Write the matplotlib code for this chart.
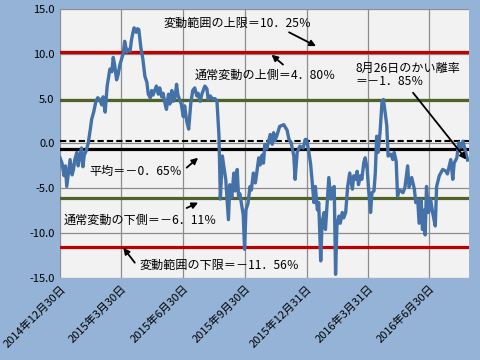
import matplotlib
matplotlib.use("Agg")
from matplotlib import pyplot as plt
import numpy as np
import pandas as pd

plt.rcParams['font.family'] = ['Noto Sans CJK JP', 'DejaVu Sans']

# days after 2014-12-30 and deviation rate (%)
start = "2014-12-30"
days = [0, 3, 6, 8, 10, 13, 15, 18, 20, 22, 25, 27, 30, 32, 34, 36, 39, 42, 45, 47,
        50, 53, 56, 59, 62, 64, 67, 70, 74, 77, 79, 81, 84, 86, 89, 92, 94, 96, 99, 101,
        104, 106, 108, 110, 113, 115, 117, 120,
        123, 126, 129, 131, 134, 136, 138, 141, 143, 146, 148, 151, 153, 156, 158, 161,
        163, 166, 168, 171, 173, 175, 180, 183, 185, 188, 191, 194, 197, 200, 203, 205,
        208, 211, 215, 218, 220, 223, 226, 230, 233, 236, 238,
        241, 243, 246, 248, 250, 252, 255, 258, 260, 263, 265, 267, 270, 272, 274, 276,
        279, 282, 284, 287, 290, 292, 295, 297, 300, 302, 304, 307, 312, 315, 317, 319,
        322, 326, 332, 337, 340, 343, 347, 349, 352, 356, 361, 364,
        366, 369, 372, 377, 379, 382, 384, 387, 389, 392, 394, 397, 399, 402, 404, 407,
        409, 411, 414, 416, 419, 421, 424, 427, 430, 434, 436, 439, 441, 443, 446, 448,
        451, 453, 456, 458, 461, 463, 466, 468, 470, 472, 475, 478, 480, 482, 485, 487,
        491, 494, 496, 499, 501, 503, 506, 509, 512, 516, 518, 522, 526, 528, 531, 533,
        536, 538, 541, 542, 544, 547, 550, 553, 557, 559, 563, 568, 573, 575, 580, 583,
        585, 589, 592, 595, 598, 601, 605]
rate = [-1.6, -2.2, -3.6, -2.5, -4.8, -3.0, -1.8, -3.5, -2.9, -1.8, -1.0, -2.5, -1.2, -0.5, -2.6, -1.3,
        -0.8, 0.1, 1.6, 2.7, 3.5, 4.6, 5.1, 4.9, 4.3, 5.2, 3.5, 6.4, 8.3, 8.0, 9.6, 8.8,
        7.1, 7.6, 8.8, 9.6, 10.1, 11.4, 10.2, 10.5, 10.3, 11.5, 12.3, 12.9, 12.4, 12.8, 12.7, 10.7,
        9.4, 7.5, 6.8, 5.5, 5.1, 5.9, 5.4, 6.0, 6.4, 5.5, 6.2, 5.2, 5.6, 4.4, 3.8, 5.5,
        4.4, 5.9, 4.7, 5.2, 6.6, 5.4, 4.4, 3.0, 4.2, 2.5, 1.6, 4.4, 5.9, 6.2, 5.3, 5.6,
        4.7, 5.6, 6.4, 6.1, 4.9, 5.3, 5.0, 5.0, 4.7, 0.8, -6.2,
        -1.4, -2.5, -4.0, -6.2, -8.5, -4.6, -6.0, -3.3, -5.3, -2.9, -5.9, -5.6, -7.0, -8.0, -11.8, -7.4,
        -6.7, -4.8, -5.2, -3.3, -4.4, -3.3, -1.6, -2.4, -1.3, -2.2, -0.1, -0.6, 1.0, -0.1, 1.2, 0.3,
        0.9, 1.9, 2.1, 1.5, 0.4, 0.1, -1.4, -4.0, -1.0, -0.3, -0.5, 0.45,
        0.45, -0.8, -2.3, -6.6, -4.8, -7.4, -6.6, -13.1, -8.8, -7.7, -9.6, -6.2, -3.8, -6.2, -5.1, -4.8,
        -14.6, -9.2, -8.1, -8.9, -7.7, -8.3, -7.7, -4.8, -3.3, -5.1, -3.6, -4.0, -3.1, -4.6, -3.6, -4.0,
        -2.1, -1.6, -2.9, -5.1, -7.7, -5.5, -5.3, -3.3, 0.8, -1.0, 1.2, 4.7, 4.9, 3.8, 2.0, -1.4,
        -1.2, -1.8, -1.0, -2.0, -5.9, -5.2, -5.3, -5.5, -4.9, -2.5, -4.9, -3.8, -5.1, -6.6, -6.3, -8.9,
        -6.3, -9.6, -7.4, -10.2, -4.8, -7.7, -6.2, -7.7, -9.2, -4.8, -3.6, -2.9, -3.1, -3.4, -1.8, -4.0,
        -2.2, -1.6, 0.1, -0.4, 0.25, -0.6, -1.85]

upper_limit = 10.25
upper_normal = 4.80
mean_rate = -0.65
lower_normal = -6.11
lower_limit = -11.56
dashed_level = 0.25

tick_dates = ["2014-12-30", "2015-03-30", "2015-06-30", "2015-09-30",
              "2015-12-31", "2016-03-31", "2016-06-30"]
tick_labels = ["2014年12月30日", "2015年3月30日", "2015年6月30日", "2015年9月30日",
               "2015年12月31日", "2016年3月31日", "2016年6月30日"]

dates = pd.to_datetime(start) + pd.to_timedelta(days, unit="D")

fig = plt.figure(figsize=(4.8, 3.6), dpi=100)
fig.patch.set_facecolor("#95b3d7")
ax = fig.add_axes([0.125, 0.228, 0.852, 0.747])
ax.set_facecolor("#f2f2f2")

ax.plot(dates, rate, color="#4471a8", lw=2.4, zorder=3)
ax.axhline(upper_limit, color="#c00000", lw=2.3, zorder=2)
ax.axhline(lower_limit, color="#c00000", lw=2.3, zorder=2)
ax.axhline(upper_normal, color="#4f6228", lw=2.3, zorder=2)
ax.axhline(lower_normal, color="#4f6228", lw=2.3, zorder=2)
ax.axhline(mean_rate, color="black", lw=2.3, zorder=2)
ax.axhline(dashed_level, color="black", lw=1.5, ls=(0, (3, 1.5)), zorder=2)

ax.set_ylim(-15, 15)
ax.set_yticks(np.arange(-15, 16, 5))
ax.set_yticklabels([f"{v:.1f}" for v in np.arange(-15, 16, 5)], fontsize=8)
ax.set_xlim(pd.to_datetime("2014-12-30"), pd.to_datetime("2016-08-28"))
ax.set_xticks(pd.to_datetime(tick_dates))
ax.set_xticklabels(tick_labels, rotation=45, ha="right", rotation_mode="anchor", fontsize=8)
ax.tick_params(length=0, pad=4)
ax.grid(True, color="#8c8c8c", lw=0.9)
ax.set_axisbelow(True)
for s in ax.spines.values():
    s.set_visible(False)

# text labels
fs = 8.7
ax.text(pd.to_datetime("2015-06-01"), 13.4, "変動範囲の上限＝10．25％", fontsize=fs, va="center")
ax.text(pd.to_datetime("2015-07-18"), 7.6, "通常変動の上側＝4．80％", fontsize=fs, va="center")
ax.text(pd.to_datetime("2016-03-12"), 7.6, "8月26日のかい離率\n＝－1．85％", fontsize=fs,
        va="center", linespacing=1.0)
ax.text(pd.to_datetime("2015-02-12"), -3.1, "平均＝－0．65％", fontsize=fs, va="center")
ax.text(pd.to_datetime("2015-01-05"), -8.6, "通常変動の下側＝－6．11％", fontsize=fs, va="center")
ax.text(pd.to_datetime("2015-04-27"), -13.6, "変動範囲の下限＝－11．56％", fontsize=fs, va="center")

arrows = [
    (("2015-12-05", 12.4), ("2016-01-14", 10.86)),
    (("2015-11-26", 8.8), ("2015-11-09", 9.9)),
    (("2016-06-06", 5.66), ("2016-08-24", -1.79)),
    (("2015-07-06", -2.7), ("2015-07-23", -1.6)),
    (("2015-07-06", -7.2), ("2015-07-23", -6.6)),
    (("2015-04-20", -13.3), ("2015-04-03", -11.64)),
]
for (tx, ty), (hx, hy) in arrows:
    ax.annotate("", xy=(pd.to_datetime(hx), hy), xytext=(pd.to_datetime(tx), ty),
                arrowprops=dict(arrowstyle="-|>", color="black", lw=1.3,
                                mutation_scale=9, shrinkA=0, shrinkB=0),
                zorder=5)

fig.savefig("out.png", dpi=100, facecolor=fig.get_facecolor())
